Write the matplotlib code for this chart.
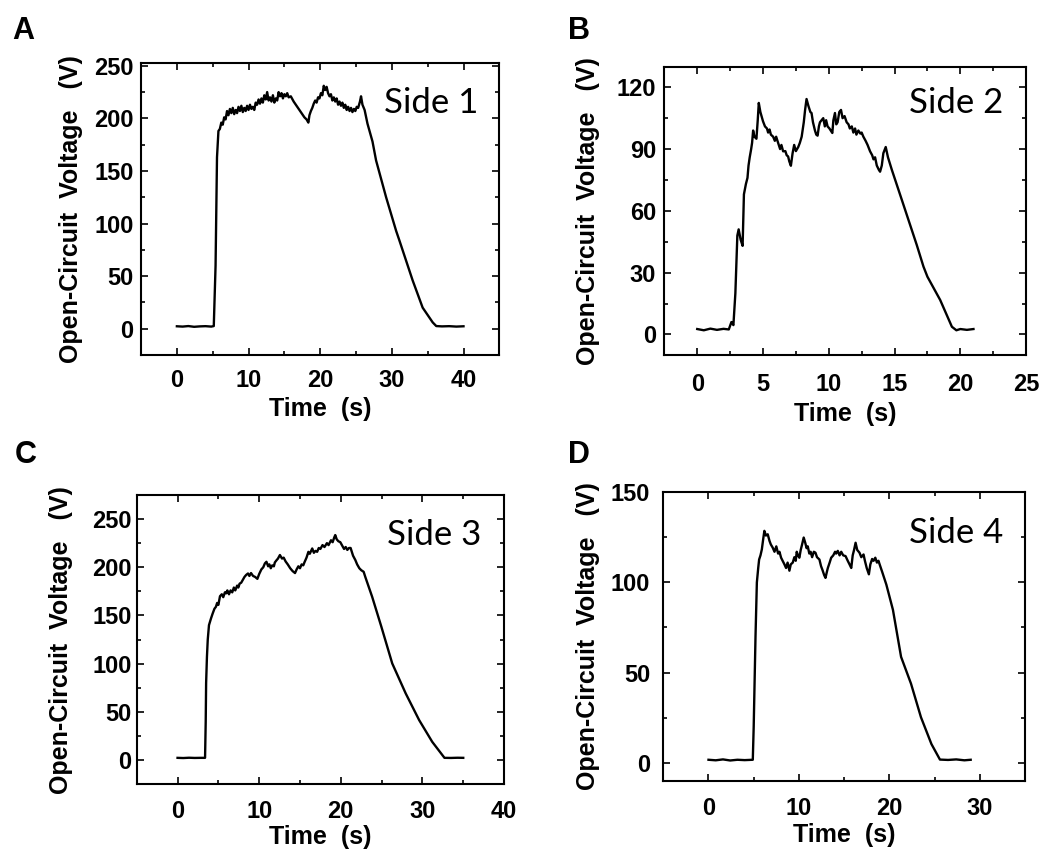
import matplotlib
matplotlib.use('Agg')
import matplotlib.pyplot as plt
from matplotlib.ticker import MultipleLocator

# Side 1 trace (time s, voltage V)
time_a = [0, 0.8, 1.6, 2.4, 3.2, 4.0, 4.8, 5.15, 5.4, 5.6, 5.8,
          6.0, 6.2, 6.4, 6.6, 6.8, 7.0, 7.2, 7.4, 7.6, 7.8, 8.0, 8.2, 8.4, 8.6, 8.8, 9.0, 9.2,
          9.4, 9.6, 9.8, 10.0, 10.2, 10.4, 10.6, 10.8, 11.0, 11.2, 11.4, 11.6, 11.8, 12.0, 12.2,
          12.4, 12.6, 12.8, 13.0, 13.2, 13.4, 13.6, 13.8, 14.0, 14.2, 14.4, 14.6, 14.8, 15.0,
          15.2, 15.4, 15.6, 15.9, 16.3, 16.7, 17.0, 17.4, 17.8, 18.1, 18.35, 18.5, 18.7, 18.9,
          19.1, 19.3, 19.5, 19.7, 19.9, 20.1, 20.3, 20.5, 20.7, 20.9, 21.1, 21.3, 21.5, 21.7,
          21.9, 22.1, 22.3, 22.5, 22.7, 22.9, 23.1, 23.3, 23.5, 23.7, 23.9, 24.1, 24.3, 24.5,
          24.7, 24.9, 25.1, 25.3, 25.55, 25.7, 25.9, 26.2, 26.6, 27.3, 27.8, 29.2, 30.6, 31.05,
          32.9, 34.3, 35.7, 36.2, 37.0, 38.0, 39.0, 40.0]
volt_a = [2.3, 2.0, 2.5, 1.8, 2.2, 2.4, 2.0, 2.5, 60, 163, 188,
          190, 196, 194, 201, 199, 207, 203, 209, 205, 210, 204, 208, 205, 211, 207, 212, 206,
          210, 207, 212, 208, 213, 209, 211, 208, 215, 213, 218, 214, 219, 215, 222,
          218, 225, 217, 220, 216, 222, 215, 219, 217, 225, 221, 224, 219, 223,
          221, 224, 220, 221, 216, 212, 209, 205, 201, 199, 196, 203, 207, 210,
          214, 217, 215, 220, 219, 224, 222, 231, 227, 230, 224, 221, 223, 217,
          220, 216, 219, 213, 216, 212, 215, 210, 213, 208, 211, 207, 210, 206,
          209, 207, 211, 210, 216, 221, 213, 208, 195, 178, 160, 125, 93, 84,
          46, 20, 6, 2.5, 2.2, 2.4, 2.0, 2.3]

# Side 2 trace
time_b = [0, 0.5, 1.0, 1.5, 2.0, 2.4, 2.6, 2.75, 2.9, 3.05, 3.15, 3.3, 3.45, 3.55, 3.7, 3.82,
          3.9, 3.99, 4.1, 4.17, 4.25, 4.35, 4.5, 4.6, 4.68, 4.8, 5.0, 5.15, 5.3, 5.39, 5.5, 5.6,
          5.77, 5.9, 6.0, 6.15, 6.3, 6.4, 6.53, 6.7, 6.8, 6.91, 7.0, 7.12, 7.25, 7.37, 7.5, 7.68,
          7.8, 7.94, 8.1, 8.2, 8.31, 8.45, 8.6, 8.69, 8.8, 8.95, 9.05, 9.15, 9.25, 9.33, 9.45,
          9.58, 9.7, 9.8, 9.91, 10.05, 10.15, 10.27, 10.35, 10.47, 10.57, 10.67, 10.8, 10.93,
          11.05, 11.2, 11.36, 11.5, 11.6, 11.75, 11.87, 12.0, 12.1, 12.25, 12.4, 12.5, 12.63,
          12.8, 12.95, 13.14, 13.3, 13.4, 13.52, 13.65, 13.8, 13.9, 14.03, 14.15, 14.33, 14.5,
          14.79, 15.55, 16.69, 17.2, 17.5, 18.47, 19.36, 19.7, 20.0, 20.5, 21.0]
volt_b = [2.6, 2.0, 2.8, 2.2, 2.7, 2.4, 6.0, 4.5, 20, 48, 51, 46, 43, 68, 73, 76,
          82, 86, 90, 93, 99, 96, 95, 104, 112.4, 108, 103.5, 101, 100, 98, 99.5, 97,
          96, 94, 96, 93, 90, 92, 88.9, 89, 87, 86.4, 84, 81.9, 88, 92, 89, 91,
          93, 96, 103, 109, 114.3, 111, 108, 107.5, 103, 99, 97, 96.5, 101, 103, 104,
          105, 101, 104, 101, 100, 99, 97.8, 104, 107.5, 102, 103, 108, 109,
          105, 106, 103, 102, 100, 101, 98, 100, 97, 99, 97.5, 98, 96,
          94, 92, 88.9, 87, 85, 86, 82, 80, 79, 82, 88, 91, 86,
          80, 65.4, 43.4, 32.9, 28, 16.7, 3.7, 2.0, 2.6, 2.2, 2.6]

# Side 3 trace
time_c = [0, 0.7, 1.4, 2.1, 2.8, 3.37, 3.45, 3.5, 3.6, 3.7, 3.85, 4.1, 4.3, 4.52, 4.7, 4.85,
          5.0, 5.2, 5.42, 5.6, 5.8, 5.96, 6.1, 6.3, 6.5, 6.7, 6.9, 7.07, 7.3, 7.45, 7.6, 7.8,
          8.0, 8.2, 8.4, 8.63, 8.8, 9.0, 9.25, 9.5, 9.78, 10.0, 10.27, 10.5, 10.7, 10.89, 11.1,
          11.25, 11.42, 11.6, 11.8, 11.92, 12.1, 12.3, 12.54, 12.8, 13.0, 13.24, 13.5, 13.8,
          14.1, 14.39, 14.6, 14.8, 15.0, 15.2, 15.4, 15.54, 15.8, 16.03, 16.2, 16.5, 16.7, 16.9,
          17.1, 17.3, 17.5, 17.76, 18.0, 18.3, 18.5, 18.8, 19.0, 19.2, 19.32, 19.5, 19.7, 19.94,
          20.2, 20.4, 20.6, 20.8, 21.0, 21.2, 21.5, 21.78, 22.0, 22.27, 22.5, 22.8, 23.0, 23.84,
          24.97, 26.3, 27.95, 29.6, 31.2, 32.7, 33.5, 34.3, 35.0]
volt_c = [2.4, 2.2, 2.5, 2.3, 2.4, 2.4, 40, 80, 107, 125, 140, 147, 152, 157, 159, 163,
          161, 170, 172, 169, 174, 173, 176, 172, 176, 174, 179, 176, 181, 179, 183, 184,
          187, 190, 192, 193.6, 191, 194, 191, 190, 188, 193, 197.8, 200, 204, 205.7, 201,
          203, 199, 202, 201, 205, 207, 209, 212.7, 209, 210, 206, 203, 199,
          196, 194, 198, 201, 199, 203, 202, 205, 210, 216, 214, 219.5, 215, 217,
          216, 220, 219, 223, 221, 225, 223, 228, 226, 231, 233.4, 229, 227, 226,
          222, 219, 221, 218, 220, 220, 212, 207.5, 203, 199, 197, 195.3, 190, 169.4,
          138.3, 100.3, 69.2, 41.5, 19, 2.4, 2.3, 2.5, 2.4]

# Side 4 trace
time_d = [0, 0.8, 1.6, 2.4, 3.2, 4.0, 4.9, 5.0, 5.2, 5.35, 5.5, 5.6, 5.75, 5.9, 6.05, 6.18,
          6.35, 6.55, 6.75, 6.9, 7.1, 7.3, 7.5, 7.7, 7.85, 8.03, 8.2, 8.4, 8.58, 8.75, 8.95, 9.1,
          9.32, 9.5, 9.65, 9.76, 9.9, 10.05, 10.2, 10.35, 10.53, 10.7, 10.85, 10.98, 11.15, 11.3,
          11.46, 11.65, 11.83, 12.0, 12.27, 12.45, 12.6, 12.8, 12.94, 13.1, 13.2, 13.4, 13.57,
          13.8, 14.0, 14.12, 14.3, 14.5, 14.68, 14.9, 15.16, 15.4, 15.6, 15.79, 15.95, 16.1,
          16.27, 16.45, 16.7, 16.9, 17.15, 17.3, 17.5, 17.74, 17.9, 18.1, 18.26, 18.45, 18.63,
          18.8, 18.93, 19.2, 19.67, 20.4, 21.3, 22.4, 23.5, 24.66, 25.6, 26.5, 27.4, 28.3, 29.0]
volt_d = [1.6, 1.3, 1.8, 1.2, 1.6, 1.4, 1.6, 20, 70, 100, 108, 112.7, 115, 118.3, 124, 128.6,
          126, 126.7, 123, 121, 119.3, 117, 120, 116, 117, 113.7, 112, 110, 108, 111, 106.5, 110,
          111, 114, 112, 117, 115, 113.7, 118, 121, 124.9, 122, 119, 120, 116, 117,
          114, 117, 116.5, 114, 112.7, 109, 107, 104, 102.5, 106, 108, 111, 113.7,
          115, 117, 116, 117.5, 115, 117, 115, 114.6, 112, 110, 108, 115, 118,
          122, 118, 116.5, 114, 115.5, 112, 108, 104.5, 110, 113, 112, 113.7, 111,
          112, 110, 106, 98.8, 84.8, 58.7, 43.8, 25.2, 10.3, 1.7, 1.5, 1.8, 1.3, 1.6]

panels = [
    # letter, label, data, axes rect, xlim, ylim, x major/minor, y major/minor
    ('A', 'Side 1', time_a, volt_a, [0.1342, 0.5853, 0.3409, 0.3415], (-5, 45), (-25, 253), (10, 5), (50, 25)),
    ('B', 'Side 2', time_b, volt_b, [0.6321, 0.5853, 0.3442, 0.3368], (-2.5, 25), (-10, 130), (5, 2.5), (30, 15)),
    ('C', 'Side 3', time_c, volt_c, [0.1301, 0.0838, 0.3495, 0.3380], (-5, 40), (-25, 275), (10, 5), (50, 25)),
    ('D', 'Side 4', time_d, volt_d, [0.6311, 0.0880, 0.3441, 0.3369], (-5, 35), (-10, 150), (10, 5), (50, 25)),
]
letter_pos = {'A': (12, 39), 'B': (568, 39), 'C': (15, 463), 'D': (568, 463)}
side_pos = {'A': (0.941, 0.828), 'B': (0.936, 0.839), 'C': (0.939, 0.827), 'D': (0.939, 0.823)}
ylabel_x = {'A': -0.162, 'B': -0.177, 'C': -0.173, 'D': -0.174}
xlabel_y = {'A': -0.144, 'B': -0.163, 'C': -0.141, 'D': -0.148}
xpad = {'A': 10, 'B': 13, 'C': 11.5, 'D': 11.5}
ypad = {'A': 5.5, 'B': 6, 'C': 3.6, 'D': 9.5}

plt.rcParams['font.family'] = ['Liberation Sans', 'DejaVu Sans']

fig = plt.figure(figsize=(10.51, 8.56), dpi=100)

for letter, side, t, v, rect, xlim, ylim, xt, yt in panels:
    ax = fig.add_axes(rect)
    ax.plot(t, v, color='black', lw=1.7)
    ax.set_xlim(*xlim)
    ax.set_ylim(*ylim)
    ax.xaxis.set_major_locator(MultipleLocator(xt[0]))
    ax.xaxis.set_minor_locator(MultipleLocator(xt[1]))
    ax.yaxis.set_major_locator(MultipleLocator(yt[0]))
    ax.yaxis.set_minor_locator(MultipleLocator(yt[1]))
    ax.tick_params(which='both', direction='in', top=True, right=True, width=1.2)
    ax.tick_params(which='major', length=5)
    ax.tick_params(which='minor', length=3)
    ax.tick_params(axis='x', which='major', pad=xpad[letter], labelsize=17)
    ax.tick_params(axis='y', which='major', pad=ypad[letter], labelsize=17)
    for lab in ax.get_xticklabels() + ax.get_yticklabels():
        lab.set_fontweight('bold')
    for sp in ax.spines.values():
        sp.set_linewidth(1.5)
    ax.set_xlabel('Time  (s)', fontsize=18, fontweight='bold')
    ax.set_ylabel('Open-Circuit  Voltage   (V)', fontsize=18, fontweight='bold')
    ax.xaxis.set_label_coords(0.5, xlabel_y[letter])
    ax.yaxis.set_label_coords(ylabel_x[letter], 0.5)
    ax.text(side_pos[letter][0], side_pos[letter][1], side, transform=ax.transAxes,
            ha='right', va='baseline', fontsize=25, family=['Lato', 'DejaVu Sans'])
    lx, ly = letter_pos[letter]
    fig.text(lx / 1051, 1 - ly / 856, letter, ha='left', va='baseline',
             fontsize=22, fontweight='bold')

fig.savefig('out.png', dpi=100)
